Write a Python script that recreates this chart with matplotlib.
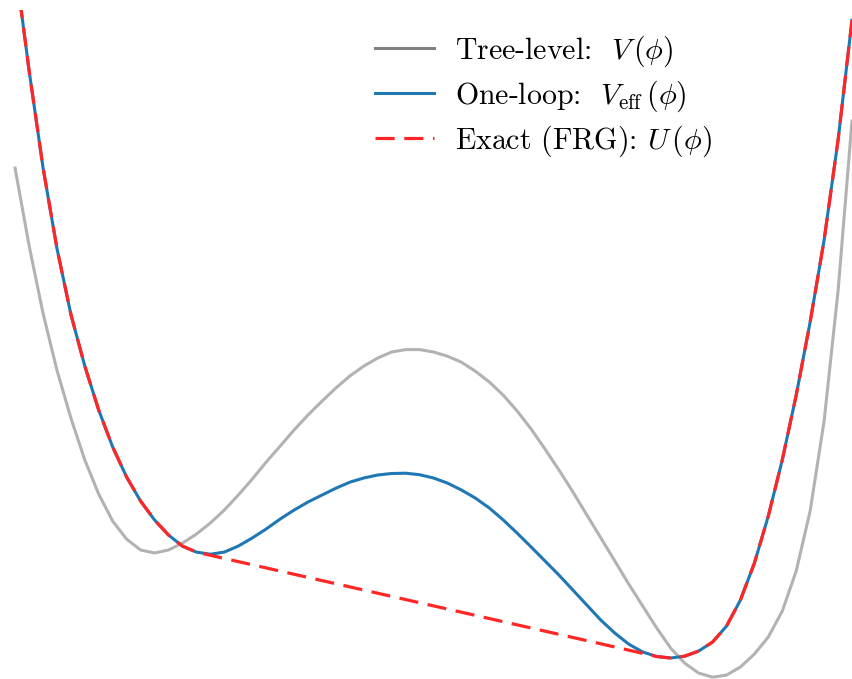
import numpy as np
import matplotlib
matplotlib.use("Agg")
import matplotlib.pyplot as plt

plt.rcParams['mathtext.fontset'] = 'cm'
plt.rcParams['font.family'] = 'cmr10'
plt.rcParams['axes.unicode_minus'] = False

# field values, step 0.05
phi = np.round(np.linspace(-1.5, 1.5, 61), 2)

# tree-level potential V(phi)
V_tree = [1.440, 1.183, 0.957, 0.767, 0.607, 0.467, 0.353, 0.263, 0.203, 0.167,
          0.157, 0.167, 0.190, 0.220, 0.257, 0.300, 0.350, 0.403, 0.460, 0.513,
          0.567, 0.617, 0.663, 0.707, 0.747, 0.780, 0.807, 0.827, 0.835, 0.835,
          0.827, 0.813, 0.793, 0.763, 0.727, 0.683, 0.630, 0.570, 0.503, 0.433,
          0.360, 0.283, 0.207, 0.130, 0.053, -0.020, -0.093, -0.160, -0.210, -0.243,
          -0.257, -0.250, -0.223, -0.180, -0.123, -0.037, 0.097, 0.297, 0.597, 1.030,
          1.597]

# one-loop effective potential
V_loop = [2.123, 1.767, 1.443, 1.173, 0.953, 0.780, 0.633, 0.510, 0.410, 0.330,
          0.267, 0.217, 0.180, 0.160, 0.153, 0.160, 0.180, 0.207, 0.237, 0.270,
          0.300, 0.327, 0.350, 0.373, 0.393, 0.407, 0.417, 0.422, 0.423, 0.418,
          0.407, 0.390, 0.367, 0.340, 0.307, 0.267, 0.223, 0.177, 0.130, 0.083,
          0.033, -0.017, -0.067, -0.110, -0.147, -0.173, -0.188, -0.193, -0.187, -0.170,
          -0.140, -0.087, 0.000, 0.123, 0.280, 0.467, 0.683, 0.927, 1.200, 1.533,
          1.933]

# exact (FRG) = convex hull: straight line between the two tangent points
phi_L, phi_R = -0.85, 0.80

labels = ['Tree-level:  $V\\,(\\phi)$', 'One-loop:  $V_{\\rm eff}\\,(\\phi)$', 'Exact (FRG): $U\\,(\\phi)$']

V_loop = np.array(V_loop)
keep = (phi <= phi_L) | (phi >= phi_R)

fig = plt.figure(figsize=(8.52, 6.79), dpi=100)
ax = fig.add_axes([0, 0, 1, 669 / 679])
ax.plot(phi, V_tree, color='gray', alpha=0.6, lw=2.2, label=labels[0])
ax.plot(phi, V_loop, color='#1f77b4', lw=2.2, label=labels[1])
ax.plot(phi[keep], V_loop[keep], color='#ff2626', lw=2.3, dashes=(6, 3), label=labels[2])
ax.set_xlim(-1.554, 1.5)
ax.set_ylim(-0.263, 1.967)
ax.axis('off')

leg = ax.legend(loc='upper left', bbox_to_anchor=(0.43, 0.964), bbox_transform=fig.transFigure,
                frameon=False, fontsize=21.5, handlelength=1.95, handletextpad=0.72,
                labelspacing=0.32, borderpad=0.3, borderaxespad=0)
leg.legend_handles[0].set_alpha(1)

fig.savefig('out.png', dpi=100)
